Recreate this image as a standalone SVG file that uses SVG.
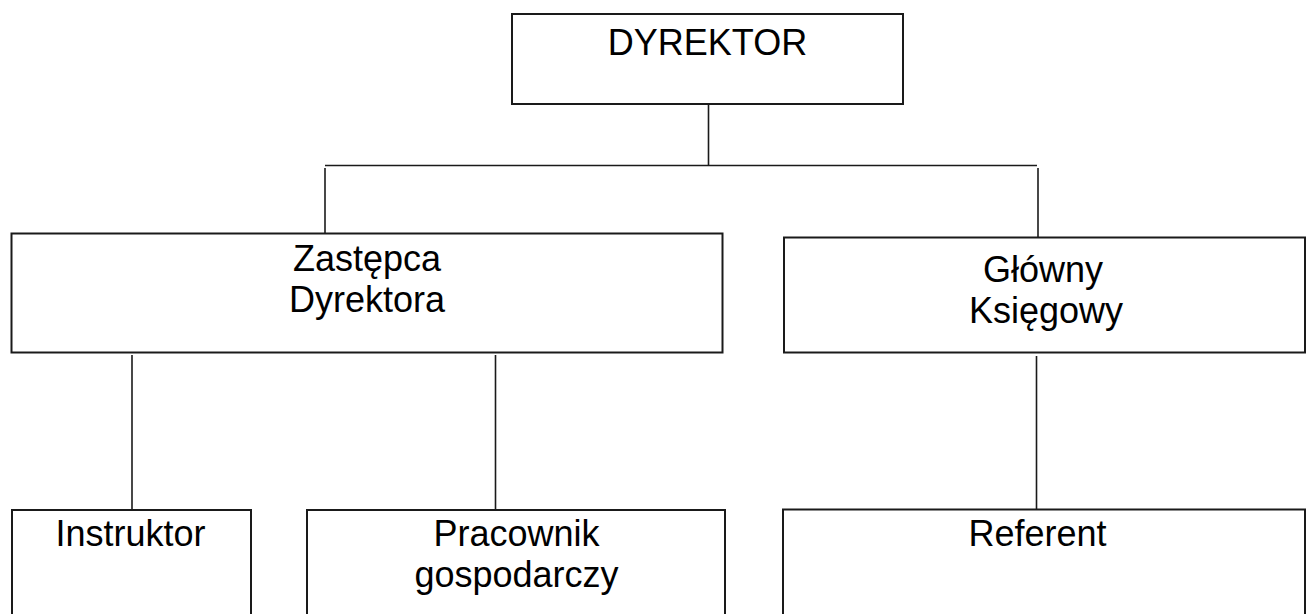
<svg xmlns="http://www.w3.org/2000/svg" width="1307" height="614" viewBox="0 0 1307 614">
<style>
.box{fill:#fff;stroke:#1a1a1a;stroke-width:2}
.ln{stroke:#1a1a1a;stroke-width:1.6;fill:none}
.t{font-family:"Liberation Sans",Arial,sans-serif;font-size:36px;fill:#000;text-anchor:middle}
</style>
<rect width="1307" height="614" fill="#fff"/>
<g id="connectors">
<line class="ln" x1="708.5" y1="104" x2="708.5" y2="165.5"/>
<line class="ln" x1="325" y1="165.5" x2="1037" y2="165.5"/>
<line class="ln" x1="325" y1="168" x2="325" y2="233"/>
<line class="ln" x1="1038" y1="168" x2="1038" y2="237"/>
<line class="ln" x1="132" y1="355" x2="132" y2="510"/>
<line class="ln" x1="495.5" y1="355" x2="495.5" y2="510"/>
<line class="ln" x1="1036.5" y1="356" x2="1036.5" y2="509"/>
</g>
<g id="dyrektor">
<rect class="box" x="512" y="14" width="391" height="90"/>
<text class="t" x="707.5" y="55">DYREKTOR</text>
</g>
<g id="zastepca">
<rect class="box" x="11.5" y="233.5" width="711" height="119"/>
<text class="t" x="367" y="271">Zastępca</text>
<text class="t" x="367" y="312">Dyrektora</text>
</g>
<g id="glowny">
<rect class="box" x="784" y="237.5" width="521" height="115"/>
<text class="t" x="1043" y="282">Główny</text>
<text class="t" x="1046" y="323">Księgowy</text>
</g>
<g id="instruktor">
<rect class="box" x="12" y="510" width="239" height="120"/>
<text class="t" x="130.5" y="546">Instruktor</text>
</g>
<g id="pracownik">
<rect class="box" x="307" y="510" width="418" height="120"/>
<text class="t" x="516.5" y="546">Pracownik</text>
<text class="t" x="516.5" y="587">gospodarczy</text>
</g>
<g id="referent">
<rect class="box" x="783" y="509.5" width="522" height="120"/>
<text class="t" x="1037.5" y="546">Referent</text>
</g>
</svg>
